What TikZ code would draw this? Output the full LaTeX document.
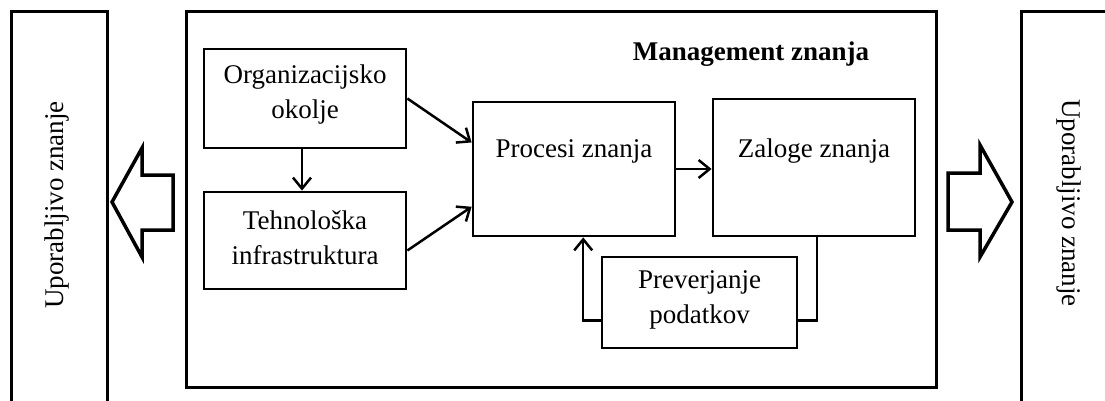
\documentclass[tikz,border=0pt]{standalone}
\usepackage{fontspec}
\setmainfont{Liberation Serif}
\usetikzlibrary{arrows.meta,calc}
\begin{document}
\begin{tikzpicture}[x=1pt,y=-1pt,
  box/.style={draw, line width=2.8pt, inner sep=0pt},
  lbl/.style={font=\fontsize{27}{35}\selectfont, align=center, inner sep=0pt},
  conn/.style={line width=2.5pt, -{Straight Barb[length=11pt,width=18pt,line width=2.5pt]}},
  plain/.style={line width=2.5pt},
  fat/.style={draw, line width=3.5pt, line join=miter, fill=white}]
\clip (0,0) rectangle (1105,401);

% outer columns and main frame
\node[box, minimum width=96, minimum height=420, anchor=north west] (usl) at (10,10) {};
\node[box, minimum width=96, minimum height=420, anchor=north west] (usr) at (1020,10) {};
\node[box, minimum width=750, minimum height=376, anchor=north west] (km) at (185,10) {};

\node[lbl, rotate=90] (usltxt) at (57,205) {Uporabljivo znanje};
\node[lbl, rotate=-90] (usrtxt) at (1069,203) {Uporabljivo znanje};
\node[lbl, font=\fontsize{27}{35}\selectfont\bfseries] (title) at (751,54) {Management znanja};

% inner boxes
\node[box, minimum width=202, minimum height=99] (org) at (305,98.5) {};
\node[lbl] (orgtxt) at (305,95) {Organizacijsko\\okolje};
\node[box, minimum width=202, minimum height=97] (teh) at (305,240.5) {};
\node[lbl] (tehtxt) at (305,238) {Tehnološka\\infrastruktura};
\node[box, minimum width=202, minimum height=134] (proc) at (574,169) {};
\node[lbl] (proctxt) at (574,151) {Procesi znanja};
\node[box, minimum width=202, minimum height=137] (zal) at (814,167.5) {};
\node[lbl] (zaltxt) at (814,151) {Zaloge znanja};
\node[box, minimum width=195, minimum height=91] (prev) at (699.5,302.5) {};
\node[lbl] (prevtxt) at (699.5,300) {Preverjanje\\podatkov};

% connectors
\draw[conn] (org.south -| 302,0) -- (teh.north -| 302,0);
\draw[conn] (org.east) -- ($(proc.north west)!0.306!(proc.south west)$);
\draw[conn] ($(teh.north east)!0.6!(teh.south east)$) -- ($(proc.north west)!0.776!(proc.south west)$);
\draw[conn] (proc.east) -- (proc.east -| zal.west);
\draw[conn] ($(prev.north west)!0.69!(prev.south west)$) -| ($(proc.south west)!0.545!(proc.south east)$);
\draw[plain] ($(zal.south west)!0.515!(zal.south east)$) |- ($(prev.north east)!0.69!(prev.south east)$);

% wide block arrows
\draw[fat] (173,175) -- (142,175) -- (142,148) -- (112,202) -- (142,257) -- (142,230) -- (173,230) -- cycle;
\draw[fat] (948,173) -- (980,173) -- (980,145) -- (1012,202) -- (980,257) -- (980,230) -- (948,230) -- cycle;
\end{tikzpicture}
\end{document}
